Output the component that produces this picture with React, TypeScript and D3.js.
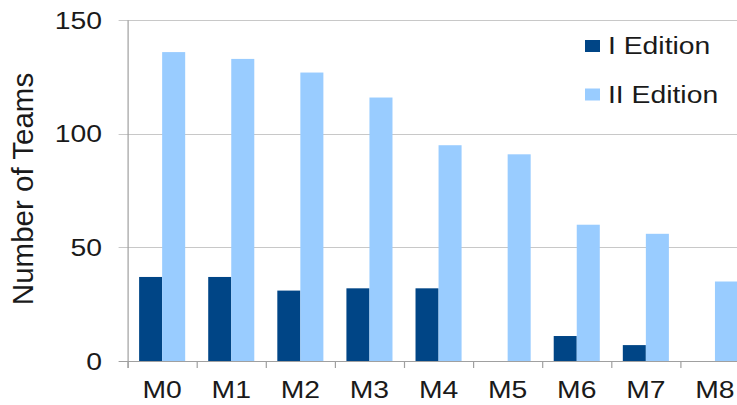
import React, { useEffect, useRef } from "react"
import * as d3 from "d3"

// data
const categories = ["M0", "M1", "M2", "M3", "M4", "M5", "M6", "M7", "M8"]
const seriesNames = ["I Edition", "II Edition"]
const edition1 = [37, 37, 31, 32, 32, 0, 11, 7, 0]
const edition2 = [136, 133, 127, 116, 95, 91, 60, 56, 35]
const yTicks = [0, 50, 100, 150]

const colors = ["#004586", "#99ccff"]

function BarChart({ width, height }: { width: number; height: number }) {
  const svgRef = useRef<SVGSVGElement>(null)

  useEffect(() => {
    const svg = d3.select(svgRef.current)
    svg.selectAll("*").remove()

    const font = "'Liberation Sans', Arial, sans-serif"
    const left = 127.6, right = 749.5, top = 20.3, bottom = 361
    const stretch = "scale(1.18,1)" // the reference text is a bit wide

    const x = d3.scaleBand().domain(categories).range([left, right]).padding(0)
    const bw = x.bandwidth()
    const xInner = d3.scaleBand().domain(seriesNames).range([bw / 6, (bw * 5) / 6]).padding(0)
    const y = d3.scaleLinear().domain([0, 150]).range([bottom, top])

    // gridlines
    svg.append("g")
      .selectAll("line")
      .data(yTicks)
      .enter()
      .append("line")
      .attr("x1", left - 9)
      .attr("x2", width)
      .attr("y1", (d) => Math.round(y(d)) + 0.5)
      .attr("y2", (d) => Math.round(y(d)) + 0.5)
      .attr("stroke", (d) => (d === 0 ? "#a0a0a0" : "#c8c8c8"))
      .attr("stroke-width", 1.2)

    // y tick labels
    svg.append("g")
      .selectAll("text")
      .data(yTicks)
      .enter()
      .append("text")
      .attr("transform", (d) => "translate(102," + (y(d) + 8.5) + ")" + stretch)
      .attr("text-anchor", "end")
      .attr("font-family", font)
      .attr("font-size", 24)
      .attr("fill", "#1a1a1a")
      .text((d) => d)

    // bars
    const rows = categories.map((c, i) => ({ c, vals: [edition1[i], edition2[i]] }))
    const groups = svg.append("g")
      .selectAll("g")
      .data(rows)
      .enter()
      .append("g")
      .attr("transform", (d) => "translate(" + x(d.c) + ",0)")

    groups.selectAll("rect")
      .data((d) => d.vals.map((v, j) => ({ s: seriesNames[j], v, j })))
      .enter()
      .filter((d) => d.v > 0)
      .append("rect")
      .attr("x", (d) => xInner(d.s)!)
      .attr("y", (d) => y(d.v))
      .attr("width", xInner.bandwidth())
      .attr("height", (d) => bottom - y(d.v))
      .attr("fill", (d) => colors[d.j])

    // y axis line
    svg.append("line")
      .attr("x1", left + 0.5)
      .attr("x2", left + 0.5)
      .attr("y1", top)
      .attr("y2", bottom + 7)
      .attr("stroke", "#a0a0a0")
      .attr("stroke-width", 1.2)

    // x category ticks
    svg.append("g")
      .selectAll("line")
      .data(categories)
      .enter()
      .append("line")
      .attr("x1", (d) => x(d)! + 0.5)
      .attr("x2", (d) => x(d)! + 0.5)
      .attr("y1", bottom)
      .attr("y2", bottom + 7)
      .attr("stroke", "#a0a0a0")
      .attr("stroke-width", 1.2)

    // x labels
    svg.append("g")
      .selectAll("text")
      .data(categories)
      .enter()
      .append("text")
      .attr("transform", (d) => "translate(" + (x(d)! + bw / 2) + ",398)" + stretch)
      .attr("text-anchor", "middle")
      .attr("font-family", font)
      .attr("font-size", 24)
      .attr("fill", "#1a1a1a")
      .text((d) => d)

    // y axis title
    svg.append("text")
      .attr("transform", "translate(33,189)rotate(-90)")
      .attr("text-anchor", "middle")
      .attr("font-family", font)
      .attr("font-size", 29.5)
      .attr("fill", "#1a1a1a")
      .text("Number of Teams")

    // legend
    const legend = svg.append("g")
      .selectAll("g")
      .data(seriesNames)
      .enter()
      .append("g")
      .attr("transform", (d, i) => "translate(585," + (40 + i * 48.5) + ")")
    legend.append("rect")
      .attr("width", 15)
      .attr("height", 12)
      .attr("fill", (d, i) => colors[i])
    legend.append("text")
      .attr("transform", "translate(23,14)" + stretch)
      .attr("font-family", font)
      .attr("font-size", 24)
      .attr("fill", "#1a1a1a")
      .text((d) => d)
  }, [width, height])

  return (
    <svg
      ref={svgRef}
      width={width}
      height={height}
      style={{ position: "absolute", left: 0, top: 0, background: "#fff" }}
    ></svg>
  )
}

export default function App() {
  return <BarChart width={737} height={405} />
}
